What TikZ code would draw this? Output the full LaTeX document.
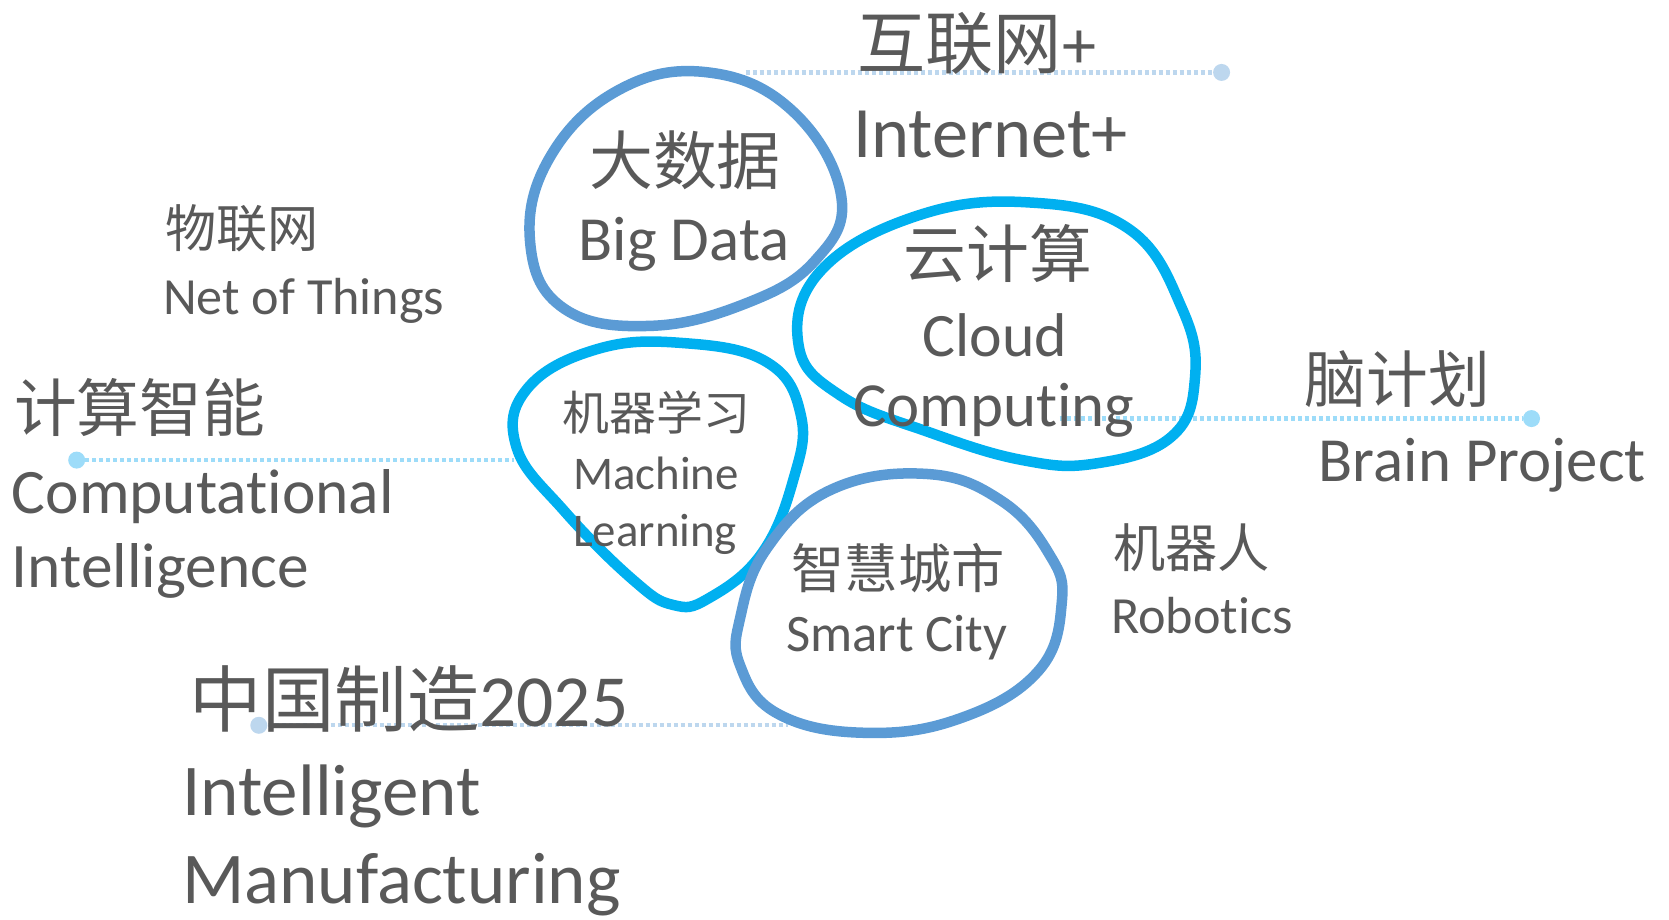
\documentclass[tikz,border=0pt]{standalone}
\usepackage{fontspec}
\setmainfont{Carlito}[Ligatures=NoCommon]
\newfontfamily\cjk{Noto Sans CJK SC}
\definecolor{txt}{HTML}{595959}
\definecolor{blueA}{HTML}{5B9BD5}
\definecolor{blueB}{HTML}{00B0F0}
\definecolor{lineA}{HTML}{BDD7EE}
\definecolor{lineB}{HTML}{9DDCF9}
\tikzset{
  lbl/.style={anchor=base west, inner sep=0pt, text=txt},
  blob/.style={line width=10.5pt},
  dotline/.style={line width=4.2pt, dash pattern=on 4pt off 3pt},
  enddot/.style={circle, inner sep=0pt, minimum size=17pt},
}
\newcommand{\fs}[1]{\fontsize{\fpeval{#1*1.065}}{\fpeval{#1*1.065}}\selectfont}
\begin{document}
\begin{tikzpicture}[x=1.065pt,y=-1.065pt]
\useasboundingbox (0,0) rectangle (1567.1,862.9);
% dotted connectors
\node[enddot, fill=lineA] (d1) at (1147,68) {};
\coordinate (s1) at (700,68);
\draw[dotline, draw=lineA] (s1) -- (d1);
\node[enddot, fill=lineB] (d2) at (72,432) {};
\coordinate (s2) at (483,432);
\draw[dotline, draw=lineB] (d2) -- (s2);
\node[enddot, fill=lineB] (d3) at (1438,393) {};
\coordinate (s3) at (995,393);
\draw[dotline, draw=lineB] (s3) -- (d3);
\node[enddot, fill=lineA] (d4) at (243,681) {};
\coordinate (s4) at (740,681);
\draw[dotline, draw=lineA] (d4) -- (s4);
% blobs
\draw[blob, draw=blueA] plot[smooth cycle, tension=0.7] coordinates {(665,68) (745,105) (790,185) (765,245) (700,285) (610,306) (530,290) (498,230) (515,150) (580,85)};
\draw[blob, draw=blueB] plot[smooth cycle, tension=0.7] coordinates {(965,190) (1060,215) (1110,290) (1122,355) (1100,410) (1030,435) (960,432) (870,405) (790,372) (750,325) (770,255) (860,203)};
\draw[blob, draw=blueB] plot[smooth cycle, tension=0.7] coordinates {(640,322) (720,340) (752,390) (745,450) (715,520) (665,562) (632,568) (595,545) (530,480) (485,420) (495,365) (560,328)};
\draw[blob, draw=blueA] plot[smooth cycle, tension=0.7] coordinates {(870,445) (940,470) (985,520) (997,565) (975,630) (900,675) (810,688) (730,670) (695,625) (695,580) (720,515) (780,460)};
% labels
\node[lbl] (t1) at (805,64) {\fs{64}\cjk 互联网\fontspec{Carlito}+};
\node[lbl] (t2) at (801,148) {\fs{68}Internet+};
\node[lbl] (t3) at (553,173) {\fs{60}\cjk 大数据};
\node[lbl] (t4) at (543,245) {\fs{59}Big Data};
\node[lbl] (t5) at (155,232) {\fs{48}\cjk 物联网};
\node[lbl] (t6) at (153,295) {\fs{49}Net of Things};
\node[lbl] (t7) at (848,261) {\fs{59}\cjk 云计算};
\node[lbl] (t8) at (866,335) {\fs{58}Cloud};
\node[lbl] (t9) at (801,400) {\fs{59}Computing};
\node[lbl] (t10) at (13,405) {\fs{59}\cjk 计算智能};
\node[lbl] (t11) at (11,482) {\fs{59.5}Computational};
\node[lbl] (t12) at (11,552) {\fs{59.5}Intelligence};
\node[lbl] (t13) at (528,404) {\fs{44}\cjk 机器学习};
\node[lbl] (t14) at (538,460) {\fs{44}Machine};
\node[lbl] (t15) at (538,513) {\fs{44}Learning};
\node[lbl] (t16) at (743,553) {\fs{50}\cjk 智慧城市};
\node[lbl] (t17) at (738,612) {\fs{49.5}Smart City};
\node[lbl] (t18) at (1225,378) {\fs{58}\cjk 脑计划};
\node[lbl] (t19) at (1238,452) {\fs{59}Brain Project};
\node[lbl] (t20) at (1045,533) {\fs{49}\cjk 机器人};
\node[lbl] (t21) at (1043,595) {\fs{49}Robotics};
\node[lbl] (t22) at (178,682) {\fs{68}\cjk 中国制造\fontspec{Carlito}\fs{69}2025};
\node[lbl] (t23) at (171,766) {\fs{68.5}Intelligent};
\node[lbl] (t24) at (171,848) {\fs{68.5}Manufacturing};
\end{tikzpicture}
\end{document}
